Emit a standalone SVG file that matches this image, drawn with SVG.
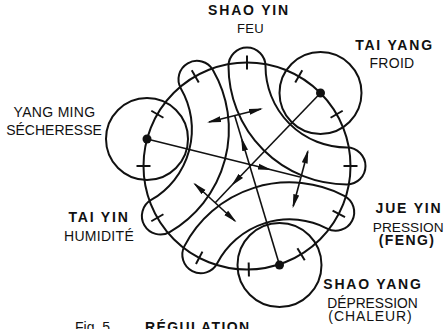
<svg xmlns="http://www.w3.org/2000/svg" width="445" height="329" viewBox="0 0 445 329">
<style>
.ln{fill:none;stroke:#111;stroke-width:2}
.ar{fill:none;stroke:#111;stroke-width:1.6}
.dot{fill:#111}
text{font-family:"Liberation Sans",Arial,Helvetica,sans-serif;font-size:14px;fill:#111;text-anchor:middle}
.b{font-weight:bold;letter-spacing:1.8px}
.r{letter-spacing:0.3px}
</style>
<defs>
<marker id="ah" markerUnits="userSpaceOnUse" markerWidth="14" markerHeight="8" viewBox="0 0 14 8" refX="12" refY="4" orient="auto-start-reverse"><path d="M0,1 L14,4 L0,7 Z" fill="#111"/></marker>
<path id="band" d="M228.5,66 A18.5,18.5 0 0 1 265.5,66 A81.5,81.5 0 0 0 347,147.5 A18.5,18.5 0 0 1 347,184.5 A118.5,118.5 0 0 1 228.5,66 Z"/>
<line id="tick" x1="343.5" y1="166" x2="357.5" y2="166"/>
</defs>
<rect width="445" height="329" fill="#fff"/>

<g id="cycle" class="ln">
<circle cx="247" cy="166" r="103.5"/>
<use href="#tick"/>
<use href="#tick" transform="rotate(27.5 247 166)"/>
<use href="#tick" transform="rotate(58.5 247 166)"/>
<use href="#tick" transform="rotate(89 247 166)"/>
<use href="#tick" transform="rotate(117.5 247 166)"/>
<use href="#tick" transform="rotate(150 247 166)"/>
<use href="#tick" transform="rotate(180 247 166)"/>
<use href="#tick" transform="rotate(210 247 166)"/>
<use href="#tick" transform="rotate(240 247 166)"/>
<use href="#tick" transform="rotate(270 247 166)"/>
<use href="#tick" transform="rotate(300 247 166)"/>
<use href="#tick" transform="rotate(330 247 166)"/>
</g>

<g id="shao-yin">
<use href="#band" class="ln"/>
<text class="b" x="249" y="15">SHAO YIN</text>
<text class="r" x="250.5" y="33" style="font-size:13px">FEU</text>
</g>

<g id="jue-yin">
<use href="#band" class="ln" transform="rotate(117.5 247 166)"/>
<text class="b" x="409" y="213.3">JUE YIN</text>
<text x="408.2" y="231.5" style="font-size:13.7px">PRESSION</text>
<text class="b" x="407" y="245" style="letter-spacing:1.4px">(FENG)</text>
</g>

<g id="tai-yin">
<use href="#band" class="ln" transform="rotate(240 247 166)"/>
<text class="b" x="99" y="222.3">TAI YIN</text>
<text class="r" x="99" y="240.7">HUMIDITÉ</text>
</g>

<g id="yang-ming">
<circle class="ln" cx="147" cy="139" r="41"/>
<circle class="dot" cx="147" cy="139" r="4.5"/>
<text class="r" x="54.5" y="116.7">YANG MING</text>
<text x="54" y="135">SÉCHERESSE</text>
</g>

<g id="tai-yang">
<circle class="ln" cx="320.5" cy="93" r="41"/>
<circle class="dot" cx="320.5" cy="93" r="4.5"/>
<text class="b" x="394.5" y="50">TAI YANG</text>
<text class="r" x="392" y="68.3">FROID</text>
</g>

<g id="shao-yang">
<circle class="ln" cx="279.5" cy="265" r="42"/>
<circle class="dot" cx="279.5" cy="265" r="4.5"/>
<text class="b" x="373" y="289">SHAO YANG</text>
<text x="372.5" y="308" style="font-size:13.8px">DÉPRESSION</text>
<text class="r" x="370.5" y="321" style="letter-spacing:0.9px">(CHALEUR)</text>
</g>

<g id="connectors" class="ar">
<line x1="147" y1="139" x2="270" y2="169.5" marker-end="url(#ah)"/>
<line x1="270" y1="169.5" x2="300" y2="177"/>
<line x1="320.5" y1="93" x2="232.5" y2="184.5" marker-end="url(#ah)"/>
<line x1="232.5" y1="184.5" x2="215" y2="203"/>
<line x1="279.5" y1="265" x2="241.7" y2="139" marker-end="url(#ah)"/>
<line x1="241.7" y1="139" x2="234.5" y2="115"/>
<line x1="209" y1="122" x2="261" y2="109" marker-start="url(#ah)" marker-end="url(#ah)"/>
<line x1="307.8" y1="151.5" x2="293.2" y2="206.3" marker-start="url(#ah)" marker-end="url(#ah)"/>
<line x1="194.8" y1="184" x2="235" y2="221" marker-start="url(#ah)" marker-end="url(#ah)"/>
</g>

<g id="caption">
<text x="75" y="332" style="text-anchor:start">Fig. 5<tspan x="145" class="b" style="letter-spacing:1.4px">RÉGULATION</tspan></text>
</g>
</svg>
